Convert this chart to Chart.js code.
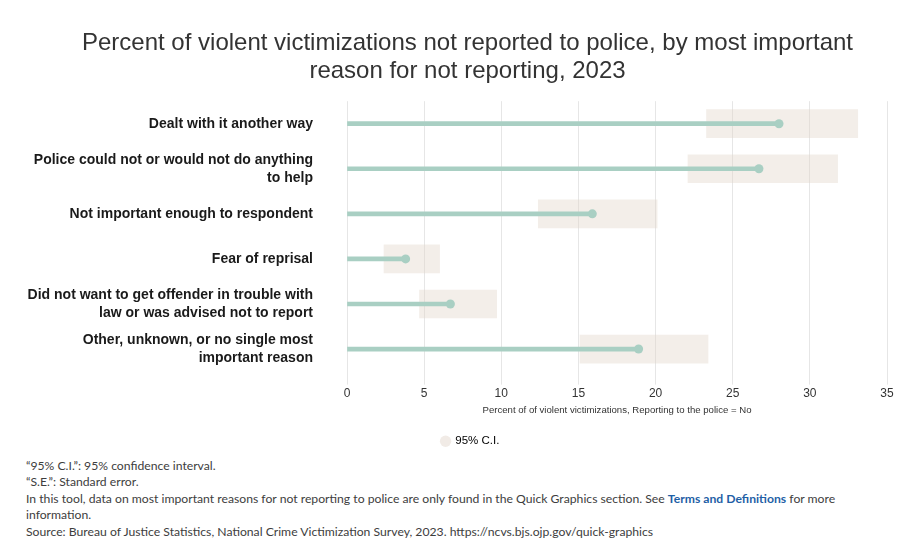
<!DOCTYPE html>
<html>
<head>
<meta charset="utf-8">
<script src="https://cdn.jsdelivr.net/npm/chart.js@4.4.1/dist/chart.umd.min.js"></script>
<style>
  html, body { margin: 0; padding: 0; background: #fff; }
  #wrap { position: relative; width: 919px; height: 459px; }
  #notes {
    margin: -1px 0 0 0; padding: 0 0 0 26px;
    font-family: "Lato", "Open Sans", sans-serif; font-size: 12.2px;
    line-height: 16.4px; color: #3d3d3d; width: 830px;
  }
  #notes a { color: #1f5fa6; text-decoration: none; font-weight: bold; }
</style>
</head>
<body>
<div id="wrap"><canvas id="chart"></canvas></div>
<div id="notes">
  <div>“95% C.I.”: 95% confidence interval.</div>
  <div>“S.E.”: Standard error.</div>
  <div>In this tool, data on most important reasons for not reporting to police are only found in the Quick Graphics section. See <a>Terms and Definitions</a> for more information.</div>
  <div>Source: Bureau of Justice Statistics, National Crime Victimization Survey, 2023. https://ncvs.bjs.ojp.gov/quick-graphics</div>
</div>
<script>
'use strict';

// Reasons for not reporting (multi-line labels)
const reasons = [
  ['Dealt with it another way'],
  ['Police could not or would not do anything', 'to help'],
  ['Not important enough to respondent'],
  ['Fear of reprisal'],
  ['Did not want to get offender in trouble with', 'law or was advised not to report'],
  ['Other, unknown, or no single most', 'important reason']
];

// Percent of violent victimizations not reported
const percents = [28.0, 26.7, 15.9, 3.8, 6.7, 18.9];

// 95% confidence interval bounds
const ciLower = [23.3, 22.1, 12.4, 2.4, 4.7, 15.1];
const ciUpper = [33.1, 31.8, 20.1, 6.0, 9.7, 23.4];

const xTicks = [0, 5, 10, 15, 20, 25, 30, 35];

const GREEN = '#a9cfc3';
const TEXT = '#333333';
const FONT = 'Liberation Sans, Arial, sans-serif';

// nudge title and legend to the right, the way the original page centres them
const shiftBlocks = {
  id: 'shiftBlocks',
  afterLayout(chart) {
    if (chart.titleBlock) chart.titleBlock.left += 38;
    if (chart.legend) { chart.legend.left += 22; chart.legend.right += 22; }
  }
};

const ctx = document.getElementById('chart').getContext('2d');

new Chart(ctx, {
  type: 'bar',
  data: {
    labels: reasons,
    datasets: [
      {
        label: '95% C.I.',
        data: ciLower.map((lo, i) => [lo, ciUpper[i]]),
        backgroundColor: 'rgba(226, 214, 202, 0.42)',
        borderWidth: 0,
        barThickness: 28,
        grouped: false,
        order: 3
      },
      {
        label: 'stem',
        data: percents,
        backgroundColor: GREEN,
        borderWidth: 0,
        barThickness: 4,
        grouped: false,
        order: 2
      },
      {
        type: 'line',
        label: 'point',
        data: percents,
        showLine: false,
        pointRadius: 4.5,
        pointHoverRadius: 5,
        pointBackgroundColor: GREEN,
        pointBorderWidth: 0,
        order: 1
      }
    ]
  },
  options: {
    indexAxis: 'y',
    responsive: true,
    maintainAspectRatio: false,
    animation: false,
    layout: { padding: { left: 10, right: 32, top: 6, bottom: 2 } },
    plugins: {
      title: {
        display: true,
        text: ['Percent of violent victimizations not reported to police, by most important',
               'reason for not reporting, 2023'],
        color: TEXT,
        font: { family: FONT, size: 24, weight: 'normal', lineHeight: 1.17 },
        padding: { top: 23, bottom: 16 }
      },
      legend: {
        position: 'bottom',
        labels: {
          color: TEXT,
          usePointStyle: true,
          pointStyle: 'circle',
          boxWidth: 8,
          boxHeight: 8,
          padding: 12,
          font: { family: FONT, size: 11.5 },
          generateLabels: () => [{
            text: '95% C.I.',
            fillStyle: '#f1ebe6',
            strokeStyle: '#f1ebe6',
            lineWidth: 0,
            pointStyle: 'circle',
            datasetIndex: 0
          }]
        }
      },
      tooltip: { enabled: false }
    },
    scales: {
      x: {
        type: 'linear',
        min: 0,
        max: 35,
        afterBuildTicks: scale => { scale.ticks = xTicks.map(v => ({ value: v })); },
        grid: { color: '#e6e6e6', drawTicks: true, tickLength: 13, lineWidth: 1 },
        border: { display: false },
        ticks: {
          color: TEXT,
          padding: 2,
          font: { family: FONT, size: 12 }
        },
        title: {
          display: true,
          text: 'Percent of of violent victimizations, Reporting to the police = No',
          color: TEXT,
          font: { family: FONT, size: 9.6 },
          padding: { top: 2, bottom: 7 }
        }
      },
      y: {
        afterFit: scale => { scale.width = 337; },
        grid: { display: false },
        border: { display: false },
        ticks: {
          color: '#1a1a1a',
          padding: 26,
          font: { family: FONT, size: 14, weight: 'bold', lineHeight: 1.28 }
        }
      }
    }
  },
  plugins: [shiftBlocks]
});
</script>
</body>
</html>
